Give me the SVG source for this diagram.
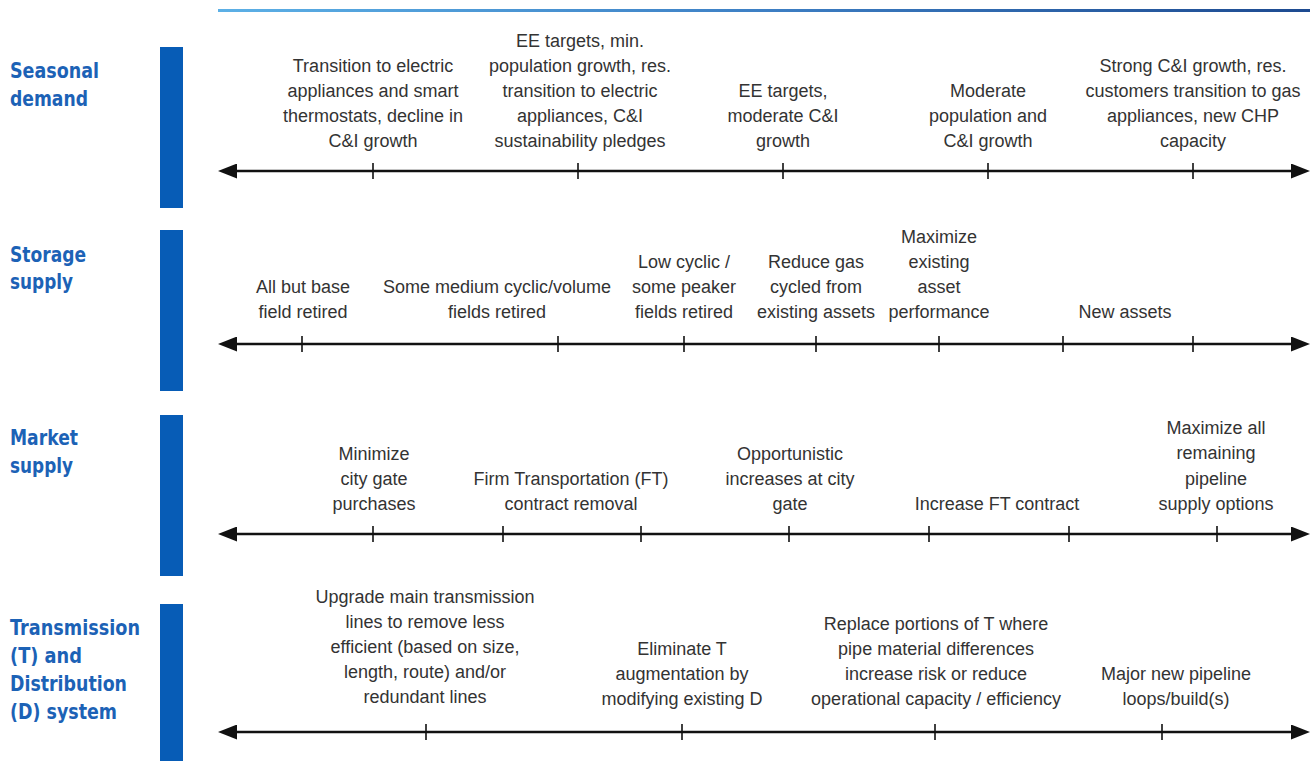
<svg xmlns="http://www.w3.org/2000/svg" width="1310" height="761" viewBox="0 0 1310 761">
<style>
.lbl{font-family:"DejaVu Sans","Liberation Sans",sans-serif;font-weight:bold;font-size:22px;fill:#1c62b6}
.bar{fill:#075cb6}
.t{font-family:"Liberation Sans",Arial,sans-serif;font-size:18px;fill:#333;text-anchor:middle}
.axis{stroke:#111;stroke-width:2.5;fill:none}
.tick{stroke:#111;stroke-width:1.6}
</style>
<defs>
<linearGradient id="topg" x1="0" y1="0" x2="1" y2="0">
<stop offset="0" stop-color="#5cb0e6"/>
<stop offset="0.5" stop-color="#3d7fc4"/>
<stop offset="1" stop-color="#1d4a90"/>
</linearGradient>
<marker id="ah" viewBox="0 0 19 15" refX="0" refY="7.5" markerWidth="19" markerHeight="15" markerUnits="userSpaceOnUse" orient="auto-start-reverse">
<path d="M0,0 L19,7.5 L0,15 Z" fill="#111"/>
</marker>
</defs>
<rect x="218" y="9" width="1092" height="3" fill="url(#topg)"/>

<g id="row-seasonal">
<rect class="bar" x="160" y="47" width="23" height="161"/>
<text class="lbl"><tspan x="10" y="78" textLength="89" lengthAdjust="spacingAndGlyphs">Seasonal</tspan><tspan x="10" y="106" textLength="78" lengthAdjust="spacingAndGlyphs">demand</tspan></text>
</g>
<g id="row-storage">
<rect class="bar" x="160" y="230" width="23" height="161"/>
<text class="lbl"><tspan x="10" y="262" textLength="76" lengthAdjust="spacingAndGlyphs">Storage</tspan><tspan x="10" y="289" textLength="63" lengthAdjust="spacingAndGlyphs">supply</tspan></text>
</g>
<g id="row-market">
<rect class="bar" x="160" y="415" width="23" height="161"/>
<text class="lbl"><tspan x="10" y="445" textLength="68" lengthAdjust="spacingAndGlyphs">Market</tspan><tspan x="10" y="473" textLength="63" lengthAdjust="spacingAndGlyphs">supply</tspan></text>
</g>
<g id="row-td">
<rect class="bar" x="160" y="604" width="23" height="157"/>
<text class="lbl"><tspan x="10" y="635" textLength="130" lengthAdjust="spacingAndGlyphs">Transmission</tspan><tspan x="10" y="663" textLength="72" lengthAdjust="spacingAndGlyphs">(T) and</tspan><tspan x="10" y="691" textLength="117" lengthAdjust="spacingAndGlyphs">Distribution</tspan><tspan x="10" y="719" textLength="107" lengthAdjust="spacingAndGlyphs">(D) system</tspan></text>
</g>

<g id="connectors">
<line class="axis" x1="237" y1="171" x2="1291" y2="171" marker-start="url(#ah)" marker-end="url(#ah)"/>
<line class="axis" x1="237" y1="344" x2="1291" y2="344" marker-start="url(#ah)" marker-end="url(#ah)"/>
<line class="axis" x1="237" y1="534" x2="1291" y2="534" marker-start="url(#ah)" marker-end="url(#ah)"/>
<line class="axis" x1="237" y1="732" x2="1291" y2="732" marker-start="url(#ah)" marker-end="url(#ah)"/>
<g class="tick">
<line x1="373" y1="163" x2="373" y2="179"/><line x1="578" y1="163" x2="578" y2="179"/><line x1="783" y1="163" x2="783" y2="179"/><line x1="988" y1="163" x2="988" y2="179"/><line x1="1193" y1="163" x2="1193" y2="179"/>
<line x1="302" y1="336" x2="302" y2="352"/><line x1="558" y1="336" x2="558" y2="352"/><line x1="684" y1="336" x2="684" y2="352"/><line x1="816" y1="336" x2="816" y2="352"/><line x1="939" y1="336" x2="939" y2="352"/><line x1="1063" y1="336" x2="1063" y2="352"/><line x1="1193" y1="336" x2="1193" y2="352"/>
<line x1="373" y1="526" x2="373" y2="542"/><line x1="503" y1="526" x2="503" y2="542"/><line x1="641" y1="526" x2="641" y2="542"/><line x1="789" y1="526" x2="789" y2="542"/><line x1="929" y1="526" x2="929" y2="542"/><line x1="1069" y1="526" x2="1069" y2="542"/><line x1="1217" y1="526" x2="1217" y2="542"/>
<line x1="426" y1="724" x2="426" y2="740"/><line x1="682" y1="724" x2="682" y2="740"/><line x1="935" y1="724" x2="935" y2="740"/><line x1="1162" y1="724" x2="1162" y2="740"/>
</g>
</g>

<g id="seasonal-items">
<text class="t"><tspan x="373" y="72">Transition to electric</tspan><tspan x="373" y="97">appliances and smart</tspan><tspan x="373" y="122">thermostats, decline in</tspan><tspan x="373" y="147">C&amp;I growth</tspan></text>
<text class="t"><tspan x="580" y="47">EE targets, min.</tspan><tspan x="580" y="72">population growth, res.</tspan><tspan x="580" y="97">transition to electric</tspan><tspan x="580" y="122">appliances, C&amp;I</tspan><tspan x="580" y="147">sustainability pledges</tspan></text>
<text class="t"><tspan x="783" y="97">EE targets,</tspan><tspan x="783" y="122">moderate C&amp;I</tspan><tspan x="783" y="147">growth</tspan></text>
<text class="t"><tspan x="988" y="97">Moderate</tspan><tspan x="988" y="122">population and</tspan><tspan x="988" y="147">C&amp;I growth</tspan></text>
<text class="t"><tspan x="1193" y="72">Strong C&amp;I growth, res.</tspan><tspan x="1193" y="97">customers transition to gas</tspan><tspan x="1193" y="122">appliances, new CHP</tspan><tspan x="1193" y="147">capacity</tspan></text>
</g>

<g id="storage-items">
<text class="t"><tspan x="303" y="293">All but base</tspan><tspan x="303" y="318">field retired</tspan></text>
<text class="t"><tspan x="497" y="293">Some medium cyclic/volume</tspan><tspan x="497" y="318">fields retired</tspan></text>
<text class="t"><tspan x="684" y="268">Low cyclic /</tspan><tspan x="684" y="293">some peaker</tspan><tspan x="684" y="318">fields retired</tspan></text>
<text class="t"><tspan x="816" y="268">Reduce gas</tspan><tspan x="816" y="293">cycled from</tspan><tspan x="816" y="318">existing assets</tspan></text>
<text class="t"><tspan x="939" y="243">Maximize</tspan><tspan x="939" y="268">existing</tspan><tspan x="939" y="293">asset</tspan><tspan x="939" y="318">performance</tspan></text>
<text class="t"><tspan x="1125" y="318">New assets</tspan></text>
</g>

<g id="market-items">
<text class="t"><tspan x="374" y="460">Minimize</tspan><tspan x="374" y="485">city gate</tspan><tspan x="374" y="510">purchases</tspan></text>
<text class="t"><tspan x="571" y="485">Firm Transportation (FT)</tspan><tspan x="571" y="510">contract removal</tspan></text>
<text class="t"><tspan x="790" y="460">Opportunistic</tspan><tspan x="790" y="485">increases at city</tspan><tspan x="790" y="510">gate</tspan></text>
<text class="t"><tspan x="997" y="510">Increase FT contract</tspan></text>
<text class="t"><tspan x="1216" y="434">Maximize all</tspan><tspan x="1216" y="459">remaining</tspan><tspan x="1216" y="485">pipeline</tspan><tspan x="1216" y="510">supply options</tspan></text>
</g>

<g id="td-items">
<text class="t"><tspan x="425" y="603">Upgrade main transmission</tspan><tspan x="425" y="628">lines to remove less</tspan><tspan x="425" y="653">efficient (based on size,</tspan><tspan x="425" y="678">length, route) and/or</tspan><tspan x="425" y="703">redundant lines</tspan></text>
<text class="t"><tspan x="682" y="655">Eliminate T</tspan><tspan x="682" y="680">augmentation by</tspan><tspan x="682" y="705">modifying existing D</tspan></text>
<text class="t"><tspan x="936" y="630">Replace portions of T where</tspan><tspan x="936" y="655">pipe material differences</tspan><tspan x="936" y="680">increase risk or reduce</tspan><tspan x="936" y="705">operational capacity / efficiency</tspan></text>
<text class="t"><tspan x="1176" y="680">Major new pipeline</tspan><tspan x="1176" y="705">loops/build(s)</tspan></text>
</g>
</svg>
